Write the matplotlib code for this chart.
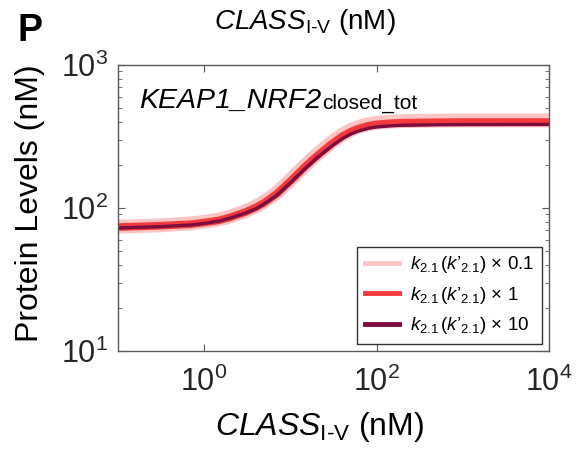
import numpy as np
import matplotlib.pyplot as plt
from matplotlib.lines import Line2D

plt.rcParams['font.family'] = 'Liberation Sans'
plt.rcParams['mathtext.fontset'] = 'custom'
plt.rcParams['mathtext.rm'] = 'Liberation Sans'
plt.rcParams['mathtext.it'] = 'Liberation Sans:italic'
plt.rcParams['mathtext.bf'] = 'Liberation Sans:bold'

# CLASS I-V concentration (nM) vs KEAP1_NRF2 closed total (nM)
class_conc = [0.1, 0.3, 0.7, 1, 1.5, 2, 3, 4, 5, 7, 10, 15, 20, 30, 40, 50, 60, 80,
              100, 150, 200, 500, 1000, 10000]
keap_x01 = [74, 75.5, 78, 80, 83, 87, 95, 102.5, 111, 128, 157, 200, 234, 287, 325, 350,
            366, 385, 394, 401, 404, 407, 408, 408]
keap_x1 = [73.5, 75, 77, 79, 82, 86, 93.5, 101, 109, 126, 154, 196, 229, 280, 317, 341,
           357, 375, 384, 391, 394, 397, 398, 398]
keap_x10 = [72.5, 74, 76, 78, 81, 85, 92, 99, 107, 123, 150, 190, 222, 270, 305, 328,
            343, 360, 368, 375, 378, 381, 382, 383]

labels = [r"$k_{\mathrm{2.1}}\,(k$’$_{\mathrm{2.1}})$ × 0.1",
          r"$k_{\mathrm{2.1}}\,(k$’$_{\mathrm{2.1}})$ × 1",
          r"$k_{\mathrm{2.1}}\,(k$’$_{\mathrm{2.1}})$ × 10"]
colors = ['#fbc5c5', '#f53a3e', '#7d0b3e']
widths = [10, 5.5, 2.4]

fig = plt.figure(figsize=(5.81, 4.53), dpi=100)
ax = fig.add_axes([0.203, 0.225, 0.742, 0.632])

for ys, c, w in zip([keap_x01, keap_x1, keap_x10], colors, widths):
    ax.plot(class_conc, ys, color=c, lw=w, solid_joinstyle='round')

ax.set_xscale('log')
ax.set_yscale('log')
ax.set_xlim(0.1, 1e4)
ax.set_ylim(10, 1000)
ax.set_xticks([1, 100, 10000])
ax.set_yticks([10, 100, 1000])

spine_col = '#5a5a5a'
for s in ax.spines.values():
    s.set_color(spine_col)
    s.set_linewidth(1.0)
ax.tick_params(which='both', direction='in', top=True, right=True, colors=spine_col,
               labelcolor='#262626', labelsize=22)
ax.tick_params(which='major', length=5)
ax.tick_params(which='minor', length=3)
ax.tick_params(axis='x', pad=11)
ax.tick_params(axis='y', pad=7)

fig.text(0.052, 0.552, 'Protein Levels (nM)', fontsize=23, rotation=90,
         ha='center', va='center')
fig.text(0.55, 0.058, r'$\mathit{CLASS}_{\mathrm{I\text{-}V}}$ (nM)', fontsize=23,
         ha='center', va='center')
fig.text(0.525, 0.952, r'$\mathit{CLASS}_{\mathrm{I\text{-}V}}$ (nM)', fontsize=20,
         ha='center', va='center')
fig.text(0.03, 0.932, 'P', fontsize=27, fontweight='bold', ha='left', va='center')

t = ax.text(0.05, 0.875, 'KEAP1_NRF2', transform=ax.transAxes, fontsize=20.5,
            style='italic', va='center', ha='left')
ax.annotate('closed_tot', xy=(1, 0.02), xycoords=t, fontsize=15, va='bottom', ha='left')

handles = [Line2D([], [], color=c, lw=3.5) for c in colors]
leg = ax.legend(handles, labels, loc='lower right', fontsize=13.5, frameon=True,
                fancybox=False, edgecolor='black', handlelength=1.8, borderpad=0.4,
                labelspacing=0.5, handletextpad=0.6, borderaxespad=0.4)
leg.get_frame().set_linewidth(1.0)

fig.savefig('out.png', dpi=100)
